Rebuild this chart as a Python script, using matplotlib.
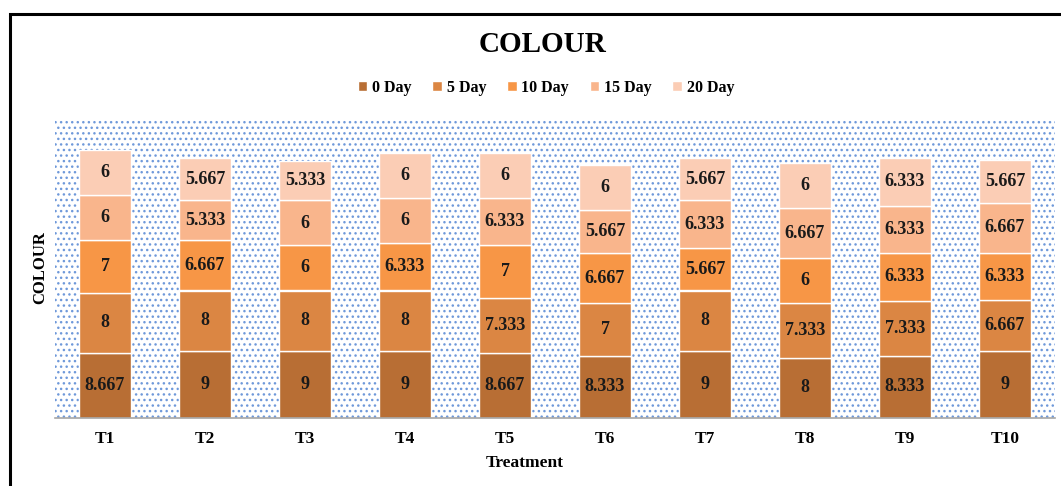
import numpy as np
import matplotlib
matplotlib.use("Agg")
import matplotlib.pyplot as plt
from matplotlib.patches import Rectangle

# -------------------------------------------------------------------- #
# Data
# -------------------------------------------------------------------- #
treatments = ["T1", "T2", "T3", "T4", "T5", "T6", "T7", "T8", "T9", "T10"]
series_names = ["0 Day", "5 Day", "10 Day", "15 Day", "20 Day"]

day_0 = [8.667, 9, 9, 9, 8.667, 8.333, 9, 8, 8.333, 9]
day_5 = [8, 8, 8, 8, 7.333, 7, 8, 7.333, 7.333, 6.667]
day_10 = [7, 6.667, 6, 6.333, 7, 6.667, 5.667, 6, 6.333, 6.333]
day_15 = [6, 5.333, 6, 6, 6.333, 5.667, 6.333, 6.667, 6.333, 6.667]
day_20 = [6, 5.667, 5.333, 6, 6, 6, 5.667, 6, 6.333, 5.667]

colours = ["#B86E34", "#DB8643", "#F79646", "#F9B58C", "#FBCDB5"]

# -------------------------------------------------------------------- #
# Figure
# -------------------------------------------------------------------- #
plt.rcParams["font.family"] = ["Liberation Serif", "DejaVu Serif"]
plt.rcParams["font.weight"] = "bold"
plt.rcParams["hatch.linewidth"] = 1.0

fig = plt.figure(figsize=(10.61, 4.86), dpi=100)
ax = fig.add_axes([55 / 1061, 68 / 486, 1000 / 1061, 300 / 486])

# dotted plot-area fill
ax.add_patch(Rectangle((0, 0), 1, 1, transform=ax.transAxes, facecolor="white",
                       edgecolor="#6F99DA", linewidth=0, hatch="...", zorder=0))

x = np.arange(len(treatments))
bottom = np.zeros(len(treatments))
for name, vals, col in zip(series_names, [day_0, day_5, day_10, day_15, day_20], colours):
    vals = np.array(vals)
    ax.bar(x, vals, width=0.52, bottom=bottom, color=col, edgecolor="white",
           linewidth=1.0, label=name, zorder=2)
    for xi, b, v in zip(x, bottom, vals):
        ax.text(xi, b + v / 2, f"{v:g}", ha="center", va="center",
                fontsize=13, fontweight="bold", color="#1a1a1a", zorder=3)
    bottom += vals

ax.set_xlim(-0.5, 9.5)
ax.set_ylim(0, 40)
ax.set_xticks(x)
ax.set_xticklabels(treatments, fontsize=12.5, fontweight="bold")
ax.tick_params(axis="x", length=0, pad=9)
ax.set_yticks([])
for s in ["top", "right", "left"]:
    ax.spines[s].set_visible(False)
ax.spines["bottom"].set_color("#A6A6A6")
ax.spines["bottom"].set_linewidth(1.2)
ax.spines["bottom"].set_zorder(4)

fig.text(543 / 1061, 1 - 45 / 486, "COLOUR", ha="center", va="center",
         fontsize=21, fontweight="bold")
fig.text(525 / 1061, 1 - 463 / 486, "Treatment", ha="center", va="center",
         fontsize=12.5, fontweight="bold")
fig.text(40 / 1061, 1 - 268 / 486, "COLOUR", ha="center", va="center",
         rotation=90, fontsize=12, fontweight="bold")

fig.legend(loc="center", bbox_to_anchor=(546 / 1061, 1 - 88 / 486), ncol=5,
           frameon=False, handlelength=0.6, handleheight=0.6,
           handletextpad=0.3, columnspacing=1.3,
           prop={"weight": "bold", "size": 11.5})

# outer chart frame (right and bottom edges fall outside the picture)
fig.patches.append(Rectangle((10 / 1061, -0.1), 1.2, 1 - 14 / 486 + 0.1,
                             transform=fig.transFigure, fill=False,
                             edgecolor="black", linewidth=2.2, zorder=10))

fig.savefig("out.png", dpi=100)
